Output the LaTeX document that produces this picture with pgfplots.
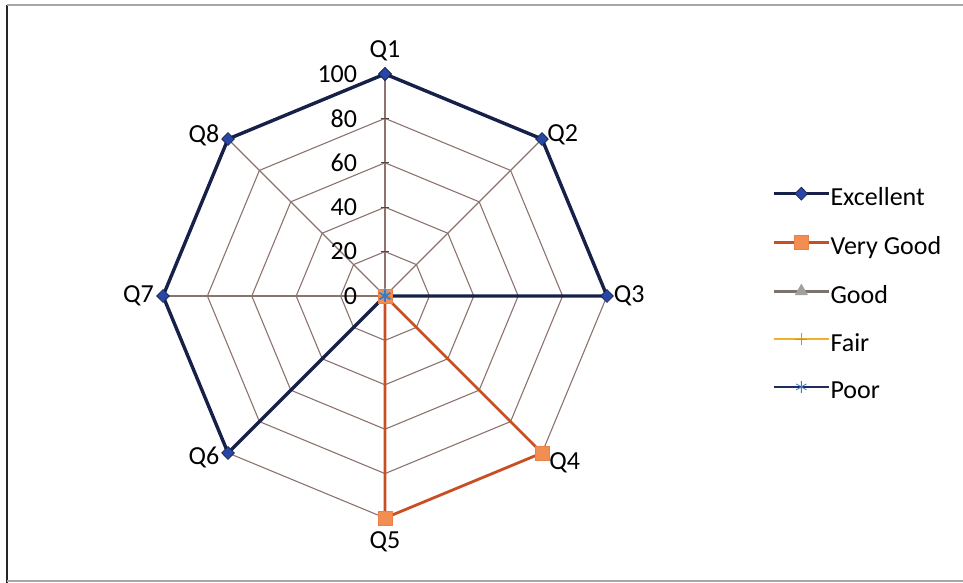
\documentclass[border=0pt]{standalone}
\usepackage{fontspec}
\setmainfont{Carlito}
\usepackage{pgfplots}
\pgfplotsset{compat=1.18}
\definecolor{gridc}{RGB}{140,115,110}
\definecolor{exline}{RGB}{22,32,72}
\definecolor{exfill}{RGB}{40,70,165}
\definecolor{vgline}{RGB}{200,78,35}
\definecolor{vgfill}{RGB}{242,142,82}
\definecolor{goodline}{RGB}{125,115,110}
\definecolor{goodfill}{RGB}{160,160,160}
\definecolor{fairline}{RGB}{242,175,40}
\definecolor{poorline}{RGB}{30,45,92}
\definecolor{poorfill}{RGB}{60,120,200}
\newcommand{\bigf}{\fontsize{26}{30}\selectfont}
\begin{document}
\begin{tikzpicture}
\path[use as bounding box] (0pt,0pt) rectangle (963pt,583pt);
\draw[black!85,line width=1.6pt] (7pt,0pt) -- (7pt,578pt);
\draw[gray!70,line width=1.2pt] (7pt,578pt) -- (963pt,578pt);
\draw[gray!70,line width=1.2pt] (7pt,2pt) -- (963pt,2pt);
\begin{axis}[
  at={(0pt,0pt)}, anchor=south west,
  x=2.22pt, y=2.22pt,
  xmin=-173.42, xmax=260.36, ymin=-129.28, ymax=133.33,
  hide axis, clip=false,
  legend cell align=left,
  legend style={at={(axis cs:174.3,49.1)}, anchor=north west, draw=none, fill=none,
    font=\bigf, inner sep=0pt,
    nodes={inner sep=0pt, text height=18pt, text depth=6pt},
    row sep=23.8pt,
    /tikz/every even column/.append style={column sep=3pt}},
  legend image code/.code={
    \draw[#1,mark=none] (0pt,6pt) -- (55pt,6pt);
    \draw[#1,only marks] plot coordinates {(27.5pt,6pt)};
  },
]
% grid octagons
\pgfplotsinvokeforeach{20,40,60,80,100}{
  \addplot[gridc, line width=1.1pt, data cs=polar, forget plot, mark=none]
    coordinates {(90,#1) (45,#1) (0,#1) (-45,#1) (-90,#1) (-135,#1) (180,#1) (135,#1) (90,#1)};
}
% spokes
\pgfplotsinvokeforeach{90,45,0,-45,-90,-135,180,135}{
  \addplot[gridc, line width=1.1pt, data cs=polar, forget plot, mark=none]
    coordinates {(#1,0) (#1,100)};
}
% small ticks and value labels on Q1 axis
\pgfplotsinvokeforeach{0,20,40,60,80,100}{
  \draw[gridc!60!black, line width=1.2pt] (axis cs:-2,#1) -- (axis cs:2,#1);
  \node[anchor=east, font=\bigf, inner sep=0pt] at (axis cs:-12.5,#1) {#1};
}
% Series
\addplot[exline, line width=3.4pt, data cs=polar, mark=diamond*, mark size=6.5pt,
  mark options={fill=exfill, draw=exline, line width=0.6pt, xscale=1.3}]
  coordinates {(90,100) (45,100) (0,100) (-45,0) (-90,0) (-135,100) (180,100) (135,100) (90,100)};
\addlegendentry{Excellent}
\addplot[vgline, line width=2.8pt, data cs=polar, mark=square*, mark size=7pt,
  mark options={fill=vgfill, draw=vgfill!80!vgline, line width=0.6pt}]
  coordinates {(90,0) (45,0) (0,0) (-45,100) (-90,100) (-135,0) (180,0) (135,0) (90,0)};
\addlegendentry{Very Good}
\addplot[goodline, line width=2.6pt, data cs=polar, mark=triangle*, mark size=7pt,
  mark options={fill=goodfill, draw=goodfill, line width=0.6pt}]
  coordinates {(90,0) (45,0) (0,0) (-45,0) (-90,0) (-135,0) (180,0) (135,0) (90,0)};
\addlegendentry{Good}
\addplot[fairline, line width=2.6pt, data cs=polar, mark=+, mark size=6pt,
  mark options={draw=fairline!70!red, line width=0.8pt}]
  coordinates {(90,0) (45,0) (0,0) (-45,0) (-90,0) (-135,0) (180,0) (135,0) (90,0)};
\addlegendentry{Fair}
\addplot[poorline, line width=2.6pt, data cs=polar, mark=asterisk, mark size=6pt,
  mark options={draw=poorfill, line width=0.8pt}]
  coordinates {(90,0) (45,0) (0,0) (-45,0) (-90,0) (-135,0) (180,0) (135,0) (90,0)};
\addlegendentry{Poor}
% category labels
\node[anchor=south, font=\bigf, inner sep=0pt] at (axis cs:0,106) {Q1};
\node[anchor=west, font=\bigf, inner sep=0pt] at (axis cs:73,72.5) {Q2};
\node[anchor=west, font=\bigf, inner sep=0pt] at (axis cs:103,0) {Q3};
\node[anchor=west, font=\bigf, inner sep=0pt] at (axis cs:74,-75) {Q4};
\node[anchor=north, font=\bigf, inner sep=0pt] at (axis cs:0,-106) {Q5};
\node[anchor=east, font=\bigf, inner sep=0pt] at (axis cs:-74.6,-72.5) {Q6};
\node[anchor=east, font=\bigf, inner sep=0pt] at (axis cs:-104,0) {Q7};
\node[anchor=east, font=\bigf, inner sep=0pt] at (axis cs:-74.6,72.5) {Q8};
\end{axis}
\end{tikzpicture}
\end{document}
